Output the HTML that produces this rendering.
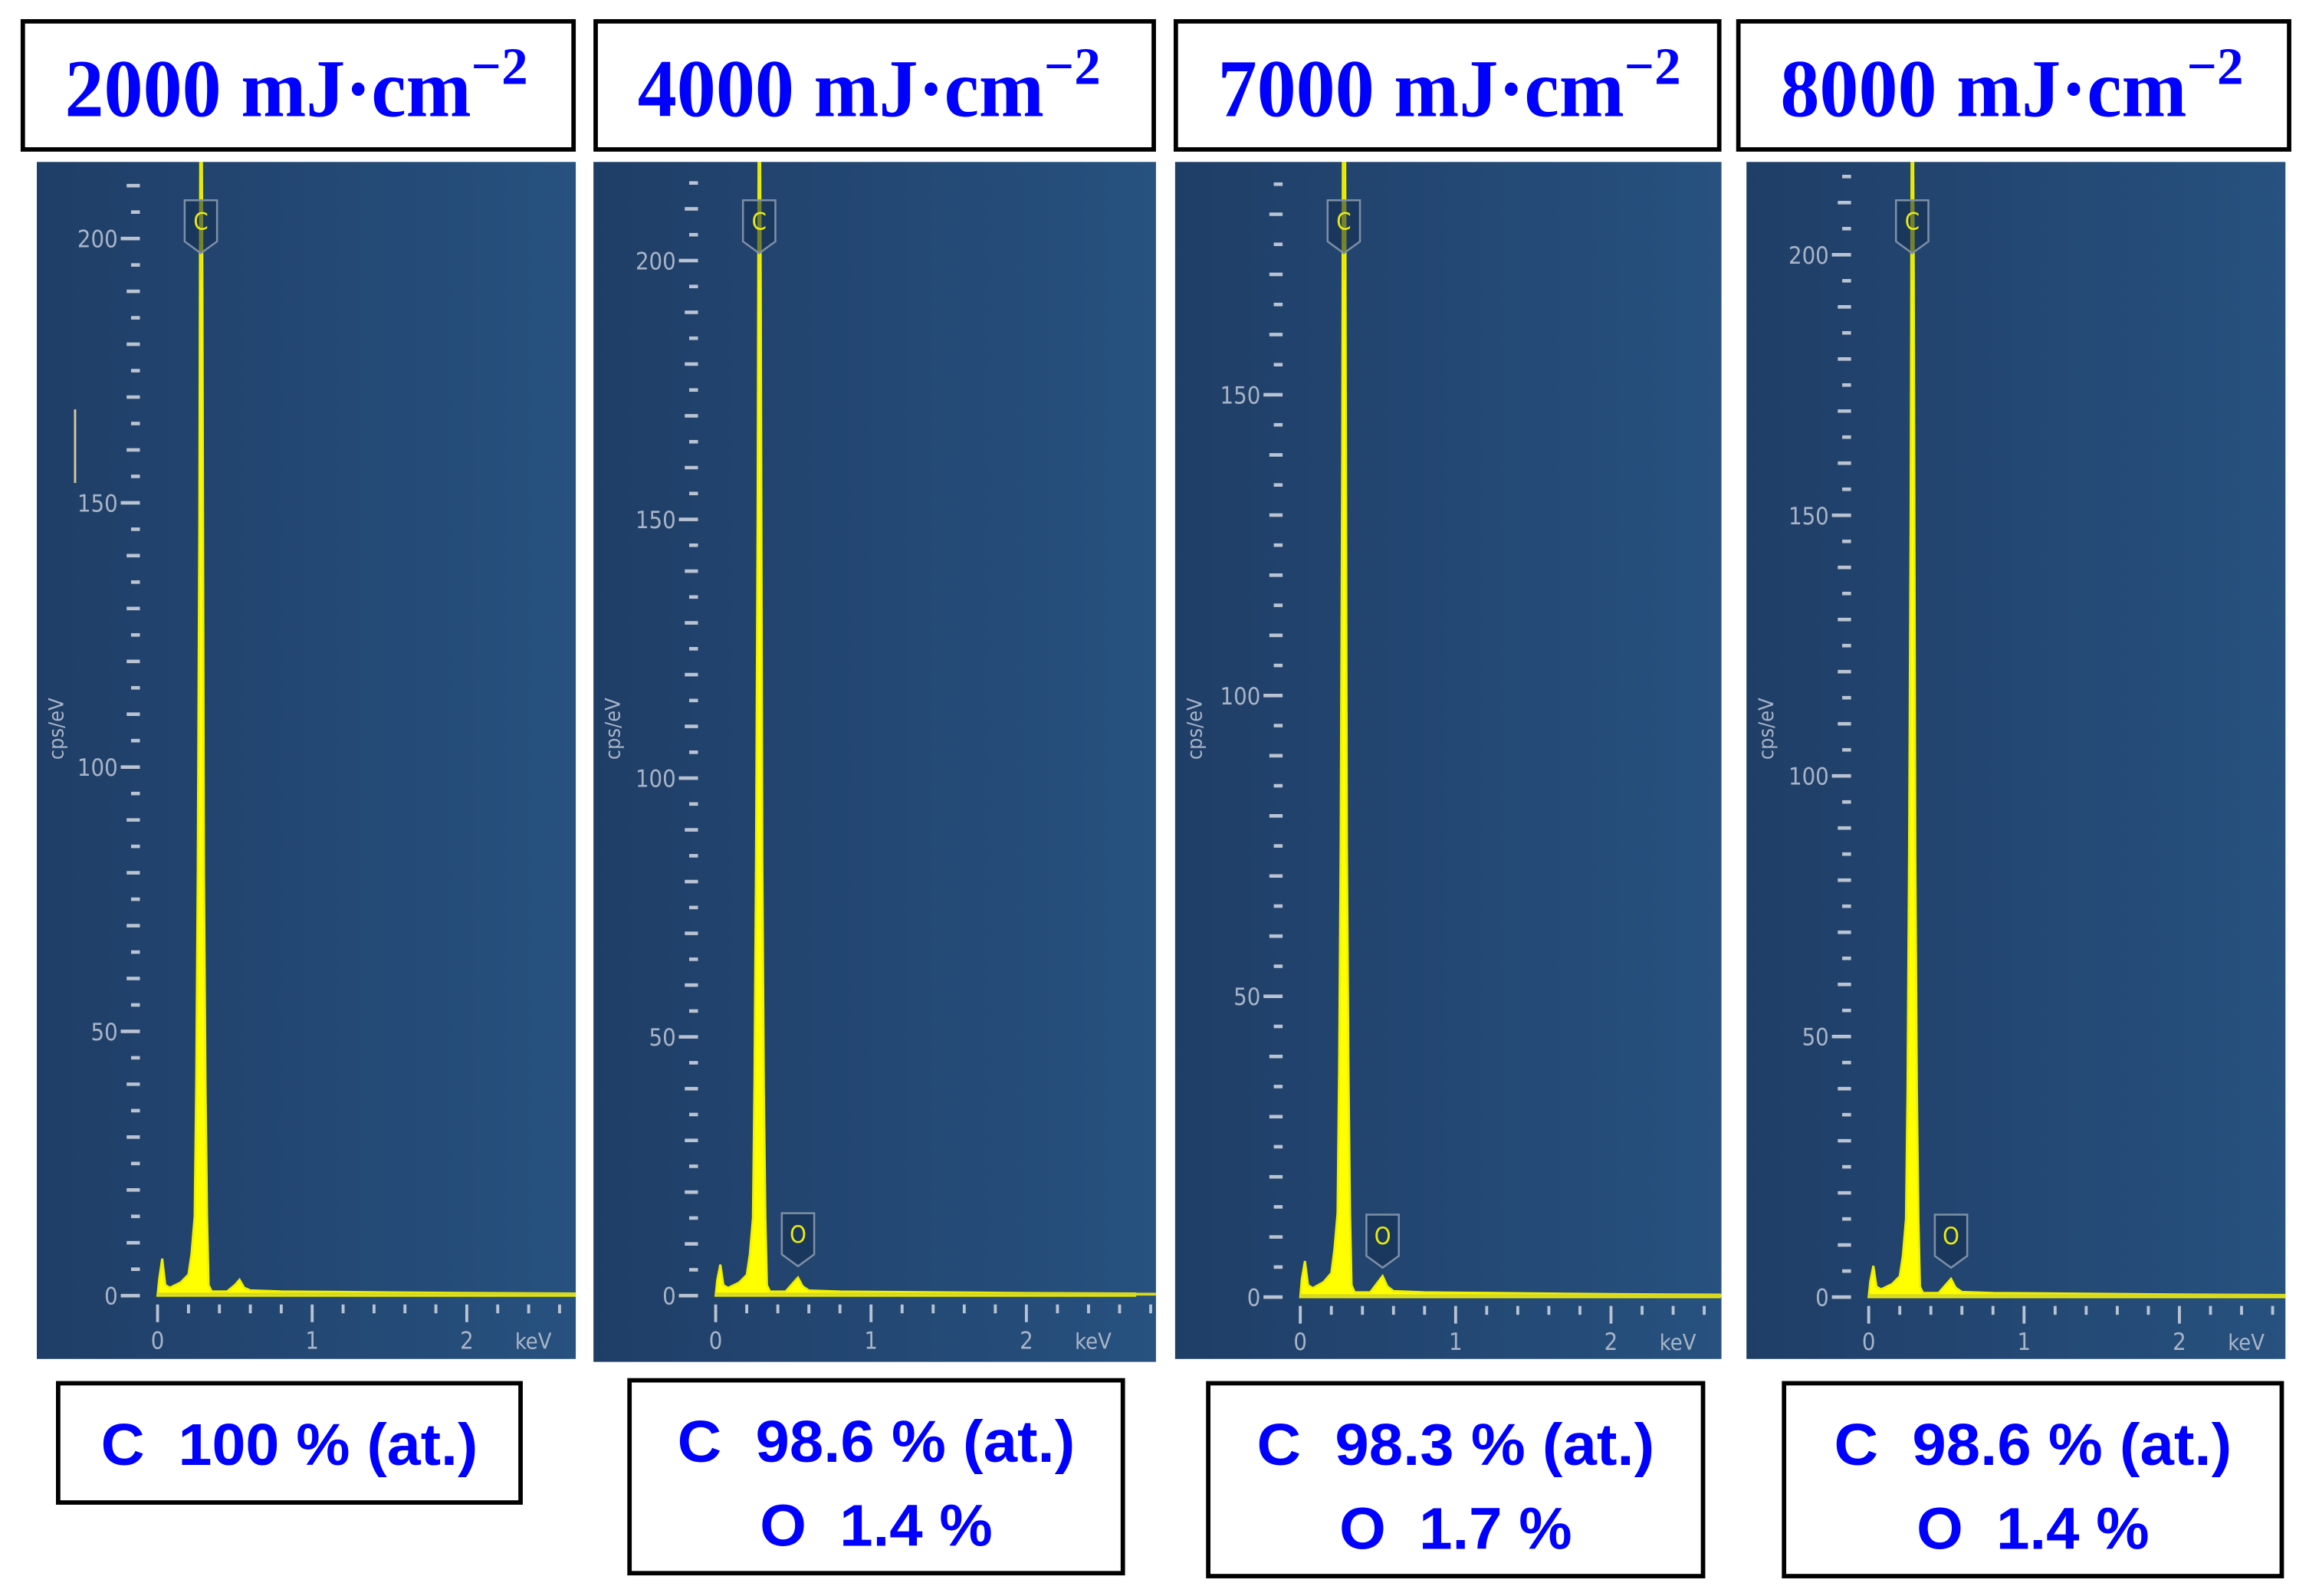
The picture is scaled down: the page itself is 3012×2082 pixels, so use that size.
<!DOCTYPE html>
<html><head><meta charset="utf-8">
<style>
html,body{margin:0;padding:0;background:#fff;}
svg{display:block;}
text{white-space:pre;}
</style></head>
<body>
<svg id="fig" xmlns="http://www.w3.org/2000/svg" width="3012" height="2082" viewBox="0 0 1568 1084" preserveAspectRatio="none">
<defs>
<linearGradient id="bg" x1="0" y1="0" x2="1" y2="0">
<stop offset="0" stop-color="#1f3e67"/>
<stop offset="1" stop-color="#27517f"/>
</linearGradient>
</defs>
<g id="root"></g>
</svg>
<script>
// ---- data ----
const titles = ["2000", "4000", "7000", "8000"];
const compC = ["100", "98.6", "98.3", "98.6"];
const compO = [null, "1.4", "1.7", "1.4"];
const energies = [0,0.01,0.03,0.05,0.08,0.15,0.2,0.22,0.24,0.25,0.26,0.27,0.28,0.29,0.3,0.31,0.32,0.33,0.35,0.45,0.5,0.53,0.56,0.6,0.8,1.2,2,2.7];
const counts1 = [0,3,7,2,1.5,2.5,4,8,15,40,80,145,260,190,80,40,15,2,0.8,0.8,2,3,1.5,1,0.8,0.7,0.5,0.4];
const counts2 = [0,3,6,2,1.5,2.5,4,8,15,42,85,150,260,195,85,40,15,2,0.8,0.8,2.5,3.5,1.8,1,0.8,0.7,0.5,0.4];
const counts3 = [0,3,6,2,1.5,2.5,4,8,14,38,75,140,260,180,75,38,14,2,0.8,0.8,2.5,3.5,1.8,1,0.8,0.7,0.5,0.4];
const counts4 = [0,3,6,2,1.5,2.5,4,8,15,40,85,150,260,195,85,40,15,2,0.8,0.8,2.5,3.5,1.8,1,0.8,0.7,0.5,0.4];
const seriesCounts = [counts1, counts2, counts3, counts4];
const yMaxTick = [210, 215, 185, 215];
const yLabels = [[0,50,100,150,200],[0,50,100,150,200],[0,50,100,150],[0,50,100,150,200]];
const xLabels = [0,1,2];
const peakC = 0.28, peakO = 0.53;

// ---- layout (pixel geometry, not data) ----
const geo = [
 {tb:[14,13,377,90], p:[25,110,366,813], y0:880, ppu:179.5/50, x0:107, ppk:105, bb:[38,938,317,84]},
 {tb:[403,13,382,90], p:[403,110,382,815], y0:880, ppu:175.75/50, x0:486, ppk:105.5, bb:[426,936,338,134]},
 {tb:[797,13,372,90], p:[798,110,371,813], y0:881, ppu:204.3/50, x0:883, ppk:105.5, bb:[819,938,339,134]},
 {tb:[1179,13,377,90], p:[1186,110,366,813], y0:881, ppu:177/50, x0:1269, ppk:105.5, bb:[1210,938,341,134]}
];
const NS = "http://www.w3.org/2000/svg";
const root = document.getElementById('root');
function mk(tag, attrs, parent, text){
  const e = document.createElementNS(NS, tag);
  for (const k in attrs) e.setAttribute(k, attrs[k]);
  if (text !== undefined) e.textContent = text;
  (parent||root).appendChild(e);
  return e;
}
const lab = '"DejaVu Sans Condensed","Liberation Sans", sans-serif';
geo.forEach((g, i) => {
  const xs = v => g.x0 + v * g.ppk;
  const ys = v => g.y0 - v * g.ppu;
  const grp = mk('g', {});
  
  
  // title box
  const tb = mk('rect', {x:g.tb[0]+1.5, y:g.tb[1]+1.5, width:g.tb[2]-3, height:g.tb[3]-3, fill:'#fff', stroke:'#000', 'stroke-width':3}, grp);
  
  
  const tt = mk('text', {x:g.tb[0]+30, y:g.tb[1]+66, fill:'#0000ff', 'font-family':'"Liberation Serif", serif', 'font-weight':'bold', 'font-size':56}, grp);
  
  
  mk('tspan', {textLength:276, lengthAdjust:'spacingAndGlyphs'}, tt, titles[i] + ' mJ\u00b7cm');
  mk('tspan', {dy:-22, 'font-size':36}, tt, '\u22122');
  // panel
  const bg = mk('rect', {x:g.p[0], y:g.p[1], width:g.p[2], height:g.p[3], fill:'url(#bg)'}, grp);
  
  
  // y ticks
  const tx = g.x0 - 12;
  for (let v = 0; v <= yMaxTick[i]; v += 5) {
    const major = v % 50 === 0, mid = v % 10 === 0;
    const len = major ? 13 : (mid ? 9 : 6);
    const t = mk('line', {x1:tx - len, x2:tx, y1:ys(v), y2:ys(v), stroke:'#b9c3d2', 'stroke-width':2.4}, grp);
    
    
  }
  yLabels[i].forEach(v => {
    const l = mk('text', {x:tx - 15, y:ys(v)+6, 'text-anchor':'end', fill:'#a9b4c6', 'font-family':lab, 'font-size':16}, grp, String(v));
    
    
  });
  const yl = mk('text', {x:0, y:0, transform:`translate(${g.p[0]+18},495) rotate(-90)`, 'text-anchor':'middle', fill:'#a9b4c6', 'font-family':lab, 'font-size':14}, grp, 'cps/eV');
  
  
  // x ticks
  for (let k = 0; k * 0.2 <= (g.p[0]+g.p[2]-g.x0)/g.ppk; k++) {
    const v = k * 0.2, major = k % 5 === 0;
    const t = mk('line', {x1:xs(v), x2:xs(v), y1:g.y0+6, y2:g.y0+(major?18:12), stroke:'#b9c3d2', 'stroke-width':2}, grp);
    
    
  }
  xLabels.forEach(v => {
    const l = mk('text', {x:xs(v), y:g.y0+36, 'text-anchor':'middle', fill:'#a9b4c6', 'font-family':lab, 'font-size':16}, grp, String(v));
    
    
  });
  const kl = mk('text', {x:xs(2.43), y:g.y0+36, 'text-anchor':'middle', fill:'#a9b4c6', 'font-family':lab, 'font-size':15}, grp, 'keV');
  
  
  // spectrum
  const clipId = 'clip' + i;
  const cp = mk('clipPath', {id:clipId}, grp);
  mk('rect', {x:g.p[0], y:g.p[1], width:g.p[2], height:g.p[3]}, cp);
  const c = seriesCounts[i];
  let d = `M${xs(energies[0])},${ys(0)}`;
  energies.forEach((e, j) => { d += ` L${xs(e).toFixed(2)},${ys(c[j]).toFixed(2)}`; });
  d += ` L${xs(energies[energies.length-1])},${ys(0)} Z`;
  const sp = mk('path', {d, fill:'#ffff00', stroke:'#f0f000', 'stroke-width':1.5, 'clip-path':`url(#${clipId})`}, grp);
  
  
  const base = mk('line', {x1:xs(0), x2:g.p[0]+g.p[2], y1:g.y0-1, y2:g.y0-1, stroke:'#d8d820', 'stroke-width':2}, grp);
  
  
  // peak markers
  const cx = xs(peakC);
  const cl = mk('line', {x1:cx, x2:cx, y1:g.p[1], y2:g.p[1]+80, stroke:'#e8e800', 'stroke-width':1.5}, grp);
  
  
  function marker(x, yb, lbl, name){
    const m = mk('g', {}, grp);
    
    
    mk('path', {d:`M${x-11},${yb-36} h22 v28 l-11,8 l-11,-8 Z`, fill:'rgba(20,45,80,0.55)', stroke:'#7f8fa6', 'stroke-width':1.3}, m);
    mk('text', {x:x, y:yb-16, 'text-anchor':'middle', fill:'#eaea10', 'font-family':lab, 'font-size':16}, m, lbl);
  }
  marker(cx, g.p[1]+62, 'C', 'c-peak-label');
  if (compO[i] !== null) marker(xs(peakO), g.y0-20, 'O', 'o-peak-label');
  if (i === 0) {
    const s = mk('line', {x1:51, x2:51, y1:278, y2:328, stroke:'#d8c89a', 'stroke-width':1.5}, grp);
    
    
  }
  // composition box
  const bx = mk('rect', {x:g.bb[0]+1.5, y:g.bb[1]+1.5, width:g.bb[2]-3, height:g.bb[3]-3, fill:'#fff', stroke:'#000', 'stroke-width':3}, grp);
  
  
  const mid = g.bb[0] + g.bb[2]/2;
  const ct = mk('text', {x:mid, y:g.bb[1]+57, 'text-anchor':'middle', fill:'#0000ff', 'font-family':'"Liberation Sans", sans-serif', 'font-weight':'bold', 'font-size':40, textLength: i===0?256:270, lengthAdjust:'spacingAndGlyphs'}, grp, 'C\u00a0\u00a0' + compC[i] + '\u00a0%\u00a0(at.)');
  
  
  if (compO[i] !== null) {
    const ot = mk('text', {x:mid, y:g.bb[1]+114, 'text-anchor':'middle', fill:'#0000ff', 'font-family':'"Liberation Sans", sans-serif', 'font-weight':'bold', 'font-size':40, textLength:158, lengthAdjust:'spacingAndGlyphs'}, grp, 'O\u00a0\u00a0' + compO[i] + '\u00a0%');
    
    
  }
});
</script>
</body></html>
